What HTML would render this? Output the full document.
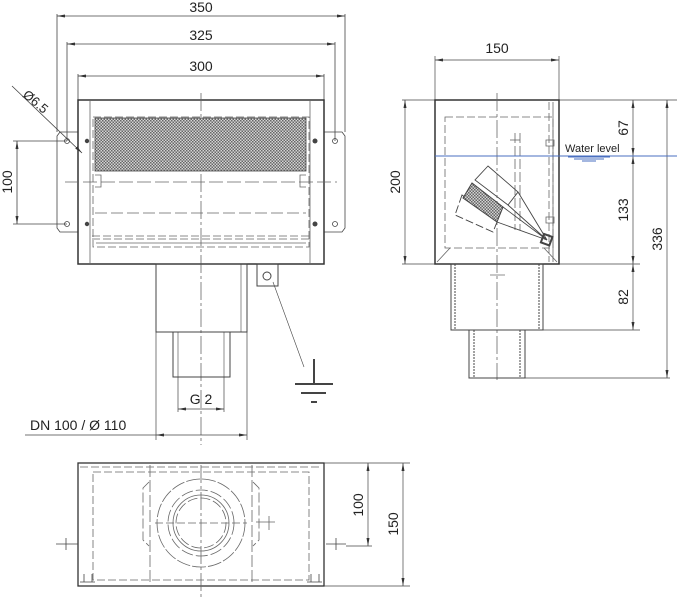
<!DOCTYPE html>
<html><head><meta charset="utf-8"><style>
html,body{margin:0;padding:0;background:#fff}
svg{display:block}
text{font-family:"Liberation Sans",sans-serif;fill:#222}
</style></head><body>
<svg width="677" height="600" viewBox="0 0 677 600" xmlns="http://www.w3.org/2000/svg">
<defs>
<pattern id="mesh" width="3" height="3" patternUnits="userSpaceOnUse">
<rect width="3" height="3" fill="#d4d4d4"/><rect width="1.5" height="1.5" fill="#666"/><rect x="1.5" y="1.5" width="1.5" height="1.5" fill="#666"/>
</pattern>
<marker id="a" markerWidth="8" markerHeight="6" refX="8" refY="3" orient="auto-start-reverse" markerUnits="userSpaceOnUse"><path d="M0,1.5 L8,3 L0,4.5z" fill="#333"/></marker>
</defs>
<g stroke="#444" fill="none" stroke-width="0.8">
<line x1="57" y1="14" x2="57" y2="132"/><line x1="345" y1="14" x2="345" y2="132"/>
<line x1="67" y1="42" x2="67" y2="141"/><line x1="335" y1="42" x2="335" y2="141"/>
<line x1="78" y1="74" x2="78" y2="100"/><line x1="324" y1="74" x2="324" y2="100"/>
<line x1="57" y1="16" x2="345" y2="16" marker-start="url(#a)" marker-end="url(#a)"/>
<line x1="67" y1="44" x2="335" y2="44" marker-start="url(#a)" marker-end="url(#a)"/>
<line x1="78" y1="76" x2="324" y2="76" marker-start="url(#a)" marker-end="url(#a)"/>
<line x1="13" y1="141" x2="67" y2="141"/><line x1="13" y1="224" x2="67" y2="224"/>
<line x1="17" y1="141" x2="17" y2="224" marker-start="url(#a)" marker-end="url(#a)"/>
<line x1="12" y1="86" x2="82" y2="153" marker-end="url(#a)"/>
<path d="M78,132 L60,132 L57,136 L57,228 L60,232 L78,232"/>
<path d="M324,132 L342,132 L345,136 L345,228 L342,232 L324,232"/>
<circle cx="67" cy="141" r="2.5"/><circle cx="67" cy="224" r="2.5"/>
<circle cx="335" cy="141" r="2.5"/><circle cx="335" cy="224" r="2.5"/>
</g>
<g fill="#444"><circle cx="87" cy="141" r="2.2"/><circle cx="87" cy="224" r="2.2"/><circle cx="315" cy="141" r="2.5"/><circle cx="315" cy="224" r="2.5"/></g>
<rect x="78" y="100" width="246" height="164" fill="none" stroke="#333" stroke-width="1.5"/>
<g stroke="#666" fill="none" stroke-width="0.8">
<line x1="90" y1="100" x2="90" y2="264"/><line x1="310" y1="100" x2="310" y2="264"/>
<rect x="93" y="117" width="216" height="130" stroke-dasharray="8,3"/>
<line x1="65" y1="182" x2="337" y2="182" stroke-dasharray="14,4"/>
<line x1="95" y1="213" x2="306" y2="213" stroke-dasharray="12,4"/>
<line x1="92" y1="236" x2="310" y2="236" stroke-dasharray="8,3"/>
<line x1="92" y1="239" x2="310" y2="239" stroke-dasharray="8,3"/>
<path d="M96,243 L306,243"/>
<path d="M95,175 h6 v12 h-6"/><path d="M306,175 h-6 v12 h6"/>
<line x1="201" y1="93" x2="201" y2="445" stroke-dasharray="18,3,3,3"/>
</g>
<rect x="95" y="118" width="211" height="53" fill="url(#mesh)" stroke="#444" stroke-width="0.8"/>
<g stroke="#444" fill="none" stroke-width="1">
<rect x="156" y="264" width="91" height="68"/>
<rect x="173" y="332" width="57" height="45"/>
<line x1="178" y1="332" x2="178" y2="377" stroke-width="0.6"/><line x1="224" y1="332" x2="224" y2="377" stroke-width="0.6"/>
<line x1="241" y1="264" x2="241" y2="332" stroke-width="0.6"/>
<rect x="257" y="264" width="21" height="22"/>
<circle cx="267" cy="276" r="4"/>
<line x1="273" y1="282" x2="304" y2="367" stroke-width="0.6"/>
<line x1="314" y1="359" x2="314" y2="384" stroke-width="2"/>
<line x1="295" y1="384" x2="333" y2="384" stroke-width="2"/>
<line x1="301" y1="393" x2="326" y2="393" stroke-width="2"/>
<line x1="311" y1="402" x2="317" y2="402" stroke-width="2"/>
</g>
<g stroke="#444" fill="none" stroke-width="0.7">
<line x1="178" y1="377" x2="178" y2="412"/><line x1="224" y1="377" x2="224" y2="412"/>
<line x1="178" y1="409" x2="224" y2="409" marker-start="url(#a)" marker-end="url(#a)"/>
<line x1="156" y1="332" x2="156" y2="440"/><line x1="247" y1="332" x2="247" y2="440"/>
<line x1="156" y1="435" x2="247" y2="435" marker-start="url(#a)" marker-end="url(#a)"/>
<line x1="25" y1="435" x2="156" y2="435"/>
</g>
<text x="201" y="12" font-size="14" text-anchor="middle">350</text>
<text x="201" y="40" font-size="14" text-anchor="middle">325</text>
<text x="201" y="71" font-size="14" text-anchor="middle">300</text>
<text x="201" y="404" font-size="14" text-anchor="middle">G 2</text>
<text x="30" y="430" font-size="14">DN 100 / Ø 110</text>
<text transform="translate(12,182) rotate(-90)" font-size="14" text-anchor="middle">100</text>
<text transform="translate(22,96) rotate(40)" font-size="13">Ø6.5</text>

<g stroke="#444" fill="none" stroke-width="0.7">
<line x1="402" y1="100" x2="677" y2="100"/>
<line x1="402" y1="264" x2="640" y2="264"/>
<line x1="543" y1="330" x2="640" y2="330"/>
<line x1="525" y1="378" x2="670" y2="378"/>
<line x1="435" y1="56" x2="435" y2="100"/><line x1="559" y1="56" x2="559" y2="100"/>
<line x1="435" y1="60" x2="559" y2="60" marker-start="url(#a)" marker-end="url(#a)"/>
<line x1="405" y1="100" x2="405" y2="264" marker-start="url(#a)" marker-end="url(#a)"/>
<line x1="633" y1="100" x2="633" y2="156" marker-start="url(#a)" marker-end="url(#a)"/>
<line x1="633" y1="156" x2="633" y2="264" marker-start="url(#a)" marker-end="url(#a)"/>
<line x1="633" y1="264" x2="633" y2="330" marker-start="url(#a)" marker-end="url(#a)"/>
<line x1="667" y1="100" x2="667" y2="378" marker-start="url(#a)" marker-end="url(#a)"/>
</g>
<rect x="435" y="100" width="124" height="164" fill="none" stroke="#333" stroke-width="1.5"/>
<g stroke="#666" fill="none" stroke-width="0.8">
<rect x="445" y="117" width="108" height="131" stroke-dasharray="8,3"/>
<line x1="549" y1="102" x2="549" y2="262" stroke-dasharray="8,3"/>
<line x1="553" y1="102" x2="553" y2="262"/>
<path d="M437,262 L450,248 M557,262 L544,248"/>
<line x1="497" y1="93" x2="497" y2="380" stroke-dasharray="18,3,3,3"/>
<line x1="515" y1="133" x2="515" y2="230" stroke-dasharray="10,3"/>
<line x1="520" y1="133" x2="520" y2="230" stroke-dasharray="10,3"/>
<line x1="510" y1="140" x2="520" y2="140"/>
<path d="M546,140 h8 v6 h-8z M546,217 h8 v6 h-8z"/>
</g>
<line x1="435" y1="156" x2="677" y2="156" stroke="#4a6fc0" stroke-width="1"/>
<path d="M568,157 H610 M574,159 H604 M582,161 H596" stroke="#4a6fc0" stroke-width="1"/>
<text x="565" y="152" font-size="11">Water level</text>
<g stroke="#444" fill="none" stroke-width="0.9">
<polygon points="488,166 475,180 508,205 518,192"/>
<polygon points="462,195 455,215 493,232 497,222" stroke-dasharray="8,3"/>
<polyline points="518,192 547,240 508,205"/>
<polyline points="503,207 547,240 497,222"/>
<rect x="542" y="235" width="9" height="9" stroke-width="2" transform="rotate(20 546 240)"/>
</g>
<polygon points="472,183 463,198 497,222 503,207" fill="url(#mesh)" stroke="#444" stroke-width="1"/>
<g stroke="#444" fill="none" stroke-width="1">
<rect x="451" y="264" width="92" height="66"/>
<line x1="455" y1="264" x2="455" y2="330" stroke-dasharray="2,1"/><line x1="539" y1="264" x2="539" y2="330" stroke-dasharray="2,1"/>
<rect x="469" y="330" width="56" height="48"/>
<line x1="474" y1="330" x2="474" y2="378" stroke-dasharray="2,1"/><line x1="520" y1="330" x2="520" y2="378" stroke-dasharray="2,1"/>
<line x1="490" y1="275" x2="505" y2="275" stroke-width="0.6"/>
</g>
<text x="497" y="53" font-size="14" text-anchor="middle">150</text>
<text transform="translate(400,182) rotate(-90)" font-size="14" text-anchor="middle">200</text>
<text transform="translate(628,128) rotate(-90)" font-size="14" text-anchor="middle">67</text>
<text transform="translate(628,210) rotate(-90)" font-size="14" text-anchor="middle">133</text>
<text transform="translate(628,297) rotate(-90)" font-size="14" text-anchor="middle">82</text>
<text transform="translate(662,239) rotate(-90)" font-size="14" text-anchor="middle">336</text>

<rect x="78" y="463" width="246" height="123" fill="none" stroke="#333" stroke-width="1.3"/>
<g stroke="#666" fill="none" stroke-width="0.8">
<rect x="93" y="472" width="216" height="108" stroke-dasharray="8,3"/>
<line x1="80" y1="467" x2="322" y2="467" stroke-dasharray="8,3"/>
<line x1="150" y1="465" x2="150" y2="584" stroke-dasharray="12,3"/>
<line x1="252" y1="465" x2="252" y2="584" stroke-dasharray="12,3"/>
<path d="M149,482 L143,488 L143,540 L149,546" stroke-dasharray="10,3"/>
<path d="M253,482 L259,488 L259,540 L253,546" stroke-dasharray="10,3"/>
<circle cx="201" cy="523" r="44" stroke-dasharray="14,2"/>
<circle cx="201" cy="523" r="33" stroke-dasharray="12,3"/>
<circle cx="201" cy="523" r="28"/>
<circle cx="201" cy="523" r="25" stroke-dasharray="10,3"/>
<line x1="201" y1="465" x2="201" y2="600" stroke-dasharray="18,3,3,3"/>
<line x1="155" y1="523" x2="247" y2="523" stroke-dasharray="8,3"/>
<path d="M256,522 H275 M269,516 V530"/>
<path d="M56,544 H78 M326,544 H346 M66,538 V550 M336,538 V550" stroke="#444"/>
<path d="M84,574 v8 M92,574 v8 M80,582 h15 M311,574 v8 M319,574 v8 M307,582 h15" stroke="#444"/>
</g>
<g stroke="#444" fill="none" stroke-width="0.7">
<line x1="324" y1="463" x2="410" y2="463"/>
<line x1="346" y1="546" x2="372" y2="546"/>
<line x1="324" y1="586" x2="410" y2="586"/>
<line x1="368" y1="463" x2="368" y2="546" marker-start="url(#a)" marker-end="url(#a)"/>
<line x1="403" y1="463" x2="403" y2="586" marker-start="url(#a)" marker-end="url(#a)"/>
</g>
<text transform="translate(363,505) rotate(-90)" font-size="14" text-anchor="middle">100</text>
<text transform="translate(398,524) rotate(-90)" font-size="14" text-anchor="middle">150</text>
</svg>
</body></html>
